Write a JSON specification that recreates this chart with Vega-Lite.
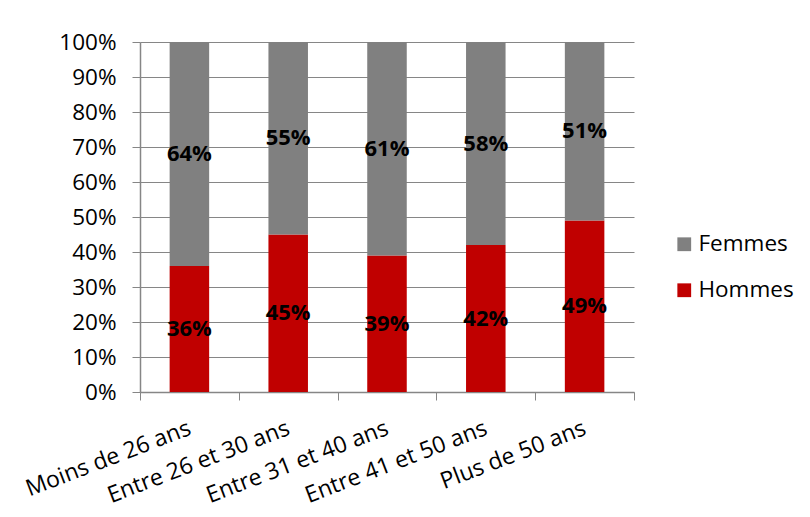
{
  "$schema": "https://vega.github.io/schema/vega-lite/v6.json",
  "width": 494,
  "height": 350,
  "autosize": "none",
  "padding": {"left": 140, "top": 42, "right": 176, "bottom": 125},
  "background": "white",
  "config": {
    "view": {"stroke": null},
    "font": "Open Sans"
  },
  "data": {
    "values": [
      {"age": "Moins de 26 ans", "sexe": "Hommes", "part": 0.36},
      {"age": "Moins de 26 ans", "sexe": "Femmes", "part": 0.64},
      {"age": "Entre 26 et 30 ans", "sexe": "Hommes", "part": 0.45},
      {"age": "Entre 26 et 30 ans", "sexe": "Femmes", "part": 0.55},
      {"age": "Entre 31 et 40 ans", "sexe": "Hommes", "part": 0.39},
      {"age": "Entre 31 et 40 ans", "sexe": "Femmes", "part": 0.61},
      {"age": "Entre 41 et 50 ans", "sexe": "Hommes", "part": 0.42},
      {"age": "Entre 41 et 50 ans", "sexe": "Femmes", "part": 0.58},
      {"age": "Plus de 50 ans", "sexe": "Hommes", "part": 0.49},
      {"age": "Plus de 50 ans", "sexe": "Femmes", "part": 0.51}
    ]
  },
  "encoding": {
    "x": {
      "field": "age",
      "type": "nominal",
      "sort": null,
      "title": null,
      "scale": {"paddingInner": 0, "paddingOuter": 0},
      "axis": {
        "tickBand": "extent",
        "labelAngle": -21,
        "labelAlign": "right",
        "labelBaseline": "middle",
        "labelPadding": 27,
        "labelLimit": 0,
        "labelOverlap": false,
        "labelFontSize": 23,
        "labelColor": "#000000",
        "labelFont": "Open Sans",
        "tickSize": 8,
        "tickColor": "#868686",
        "domainColor": "#868686",
        "domainWidth": 1.5
      }
    },
    "y": {
      "field": "part",
      "type": "quantitative",
      "stack": "zero",
      "title": null,
      "scale": {"domain": [0, 1], "nice": false},
      "axis": {
        "values": [0, 0.1, 0.2, 0.3, 0.4, 0.5, 0.6, 0.7, 0.8, 0.9, 1],
        "format": ".0%",
        "labelFontSize": 22.5,
        "labelColor": "#000000",
        "labelFont": "Open Sans",
        "labelPadding": 16,
        "tickSize": 8,
        "tickColor": "#868686",
        "domainColor": "#868686",
        "domainWidth": 1.5,
        "grid": true,
        "gridColor": "#868686",
        "gridWidth": 1.2
      }
    },
    "order": {"field": "sexe", "sort": "descending"}
  },
  "layer": [
    {
      "mark": {"type": "bar", "width": {"band": 0.4}},
      "encoding": {
        "color": {
          "field": "sexe",
          "type": "nominal",
          "scale": {"domain": ["Femmes", "Hommes"], "range": ["#808080", "#C00000"]},
          "legend": {
            "title": null,
            "orient": "none",
            "legendX": 533,
            "legendY": 191,
            "symbolType": "square",
            "symbolSize": 190,
            "symbolStrokeWidth": 0,
            "labelFontSize": 22.5,
            "labelFont": "Open Sans",
            "labelColor": "#000000",
            "labelOffset": 3,
            "rowPadding": 23
          }
        }
      }
    },
    {
      "mark": {"type": "text", "fontSize": 22, "fontWeight": "bold", "color": "#000000", "font": "Open Sans"},
      "encoding": {
        "y": {"field": "part", "type": "quantitative", "stack": "zero", "bandPosition": 0.5},
        "text": {"field": "part", "type": "quantitative", "format": ".0%"}
      }
    }
  ]
}
